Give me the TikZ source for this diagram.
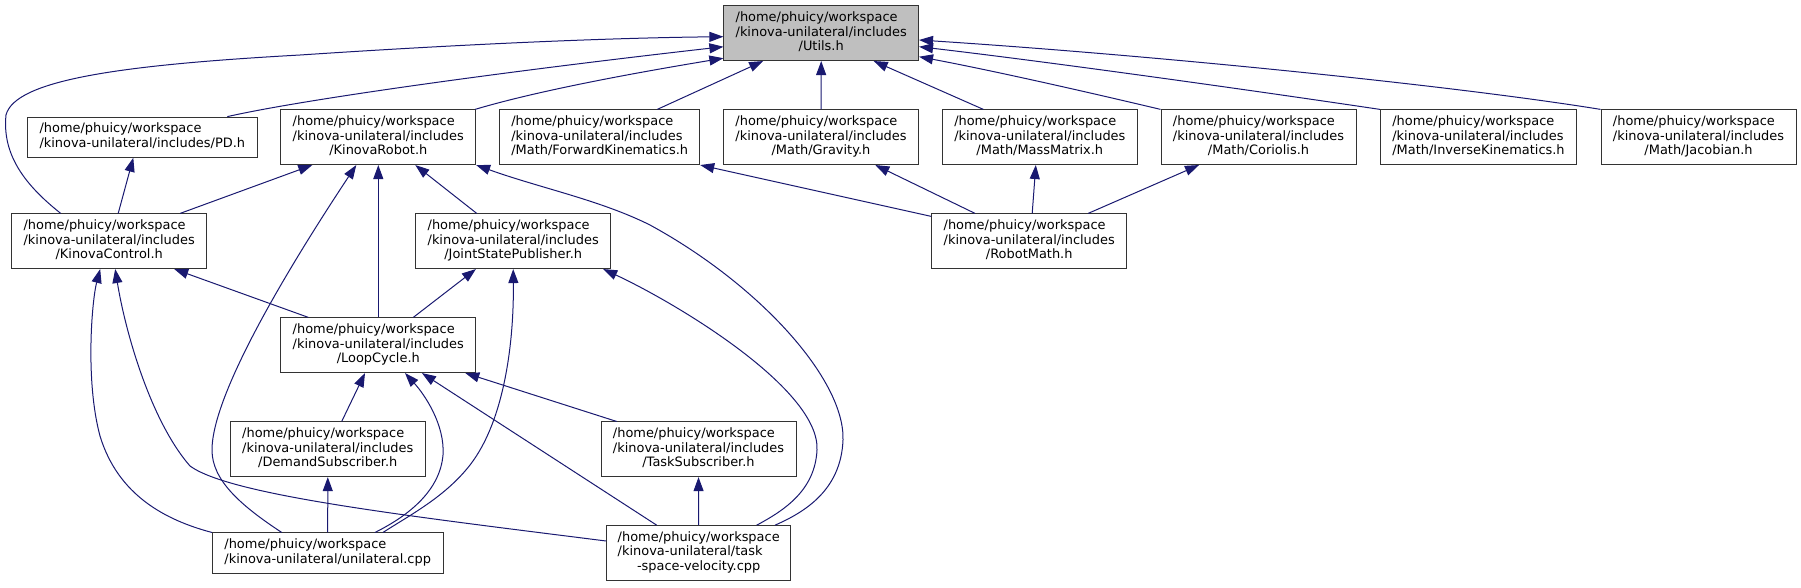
\documentclass[tikz,border=0pt]{standalone}
\usepackage{fontspec}
\setmainfont{DejaVu Sans}
\usetikzlibrary{arrows.meta,calc}
\definecolor{mblue}{RGB}{25,25,112}
\definecolor{ugray}{RGB}{191,191,191}
\newcommand{\threel}[3]{\begin{tabular}{@{}l@{}}#1\\#2\\\multicolumn{1}{@{}c@{}}{#3}\end{tabular}}
\newcommand{\twol}[2]{\begin{tabular}{@{}l@{}}#1\\#2\end{tabular}}
\newcommand{\hw}{/home/phuicy/workspace}
\newcommand{\ki}{/kinova-unilateral/includes}
\tikzset{
 nbox/.style={draw=black!80, line width=0.75pt, fill=white, inner sep=0pt,
   font=\fontsize{9.7}{11}\selectfont, minimum height=41pt},
 nbox2/.style={nbox, minimum height=30.1pt},
 conn/.style={draw=mblue, line width=0.75pt, -{Triangle[length=10.5pt,width=7.5pt]}},
}
\begin{document}
\begin{tikzpicture}[x=0.75pt,y=-0.75pt]
\useasboundingbox (0,0) rectangle (1801,587);
% nodes
\node[nbox, fill=ugray, minimum width=146pt] (U) at (821.2,33.2) {\threel{\hw}{\ki}{/Utils.h}};
\node[nbox2, minimum width=172.5pt] (PD) at (142.3,137.2) {\twol{\hw}{\ki/PD.h}};
\node[nbox, minimum width=146pt] (KR) at (378.3,137.2) {\threel{\hw}{\ki}{/KinovaRobot.h}};
\node[nbox, minimum width=150pt] (FK) at (599.7,137.2) {\threel{\hw}{\ki}{/Math/ForwardKinematics.h}};
\node[nbox, minimum width=146pt] (GR) at (821,137.2) {\threel{\hw}{\ki}{/Math/Gravity.h}};
\node[nbox, minimum width=146.25pt] (MM) at (1039.8,137.2) {\threel{\hw}{\ki}{/Math/MassMatrix.h}};
\node[nbox, minimum width=146.25pt] (CO) at (1258.5,137.2) {\threel{\hw}{\ki}{/Math/Coriolis.h}};
\node[nbox, minimum width=147.3pt] (IK) at (1478.5,137.2) {\threel{\hw}{\ki}{/Math/InverseKinematics.h}};
\node[nbox, minimum width=146.25pt] (JA) at (1698.5,137.2) {\threel{\hw}{\ki}{/Math/Jacobian.h}};
\node[nbox, minimum width=146.25pt] (KC) at (109.2,241.2) {\threel{\hw}{\ki}{/KinovaControl.h}};
\node[nbox, minimum width=146.25pt] (JSP) at (513.2,241.2) {\threel{\hw}{\ki}{/JointStatePublisher.h}};
\node[nbox, minimum width=146.25pt] (RM) at (1029.2,241.2) {\threel{\hw}{\ki}{/RobotMath.h}};
\node[nbox, minimum width=146pt] (LC) at (378.3,345.2) {\threel{\hw}{\ki}{/LoopCycle.h}};
\node[nbox, minimum width=146.25pt] (DS) at (327.8,449.3) {\threel{\hw}{\ki}{/DemandSubscriber.h}};
\node[nbox, minimum width=146.25pt] (TS) at (698.5,449.3) {\threel{\hw}{\ki}{/TaskSubscriber.h}};
\node[nbox2, minimum width=173pt] (UN) at (327.7,553) {\twol{\hw}{/kinova-unilateral/unilateral.cpp}};
\node[nbox, minimum width=138pt] (TSV) at (698.7,553) {\threel{\hw}{/kinova-unilateral/task}{-space-velocity.cpp}};
% edges into Utils
\draw[conn] ($(KC.north)+(-48.5,0)$) .. controls (25,185) and (2,155) .. (6,115)
   .. controls (15,80) and (120,65) .. (300,55) .. controls (450,45) and (600,38) .. ($(U.west)+(0,3.5)$);
\draw[conn] ($(PD.north)+(85,0)$) .. controls (300,100) and (500,72) .. ($(U.west)+(0,13.5)$);
\draw[conn] ($(KR.north east)+(-1,0)$) .. controls (540,90) and (640,72) .. ($(U.west)+(0,25)$);
\draw[conn] ($(FK.north)+(57.6,0)$) -- ($(U.south)+(-58,0)$);
\draw[conn] (GR.north) -- (U.south);
\draw[conn] ($(MM.north)+(-56.5,0)$) -- ($(U.south)+(52.5,0)$);
\draw[conn] (CO.north west) .. controls (1100,95) and (1000,72) .. ($(U.east)+(0,23.5)$);
\draw[conn] (IK.north west) .. controls (1250,90) and (1050,62) .. ($(U.east)+(0,13.5)$);
\draw[conn] (JA.north west) .. controls (1450,85) and (1150,55) .. ($(U.east)+(0,6.8)$);
% edges into KinovaRobot
\draw[conn] ($(KC.north)+(71,0)$) -- ($(KR.south)+(-66,0)$);
\draw[conn] ($(UN.north)+(-46,0)$) .. controls (240,505) and (212,480) .. (212,450)
   .. controls (212,390) and (300,250) .. ($(KR.south)+(-22,0)$);
\draw[conn] (LC.north) -- (KR.south);
\draw[conn] ($(JSP.north)+(-36.5,0)$) -- ($(KR.south)+(37,0)$);
\draw[conn] ($(TSV.north)+(76.3,0)$) .. controls (805,512) and (841,490) .. (843,440)
   .. controls (845,380) and (760,285) .. (650,225) .. controls (600,200) and (540,188) .. (KR.south east);
% edges into KinovaControl
\draw[conn] ($(LC.north)+(-70,0)$) -- ($(KC.south)+(65,0)$);
\draw[conn] (UN.north west) .. controls (165,520) and (118,495) .. (100,436)
   .. controls (85,380) and (92,300) .. ($(KC.south)+(-9,0)$);
\draw[conn] ($(TSV.west)+(0,-12)$) .. controls (400,515) and (230,495) .. (190,466)
   .. controls (150,420) and (125,330) .. ($(KC.south)+(6,0)$);
% edges into JointStatePublisher
\draw[conn] ($(LC.north)+(35,0)$) -- ($(JSP.south)+(-37.3,0)$);
\draw[conn] ($(UN.north)+(55.3,0)$) .. controls (410,515) and (445,497) .. (470,465)
   .. controls (505,420) and (514,340) .. (JSP.south);
\draw[conn] ($(TSV.north)+(58,0)$) .. controls (785,510) and (815,490) .. (817,450)
   .. controls (820,390) and (680,305) .. ($(JSP.south)+(90,0)$);
% edges into LoopCycle
\draw[conn] ($(DS.north)+(13.9,0)$) -- ($(LC.south)+(-13.3,0)$);
\draw[conn] ($(UN.north)+(47.3,0)$) .. controls (410,515) and (440,490) .. (443,455)
   .. controls (445,425) and (425,395) .. ($(LC.south)+(26.7,0)$);
\draw[conn] ($(TSV.north)+(-42,0)$) -- ($(LC.south)+(43.6,0)$);
\draw[conn] ($(TS.north)+(-81.8,0)$) -- ($(LC.south)+(87,0)$);
% subscribers
\draw[conn] (UN.north) -- (DS.south);
\draw[conn] (TSV.north) -- (TS.south);
% RobotMath
\draw[conn] ($(RM.north west)+(0,3)$) -- (FK.south east);
\draw[conn] ($(RM.north)+(-54.2,0)$) -- ($(GR.south)+(54.3,0)$);
\draw[conn] ($(RM.north)+(3,0)$) -- ($(MM.south)+(-4,0)$);
\draw[conn] ($(RM.north)+(59,0)$) -- ($(CO.south)+(-59.5,0)$);
% PD
\draw[conn] ($(KC.north)+(9,0)$) -- ($(PD.south)+(-9,0)$);
\end{tikzpicture}
\end{document}
